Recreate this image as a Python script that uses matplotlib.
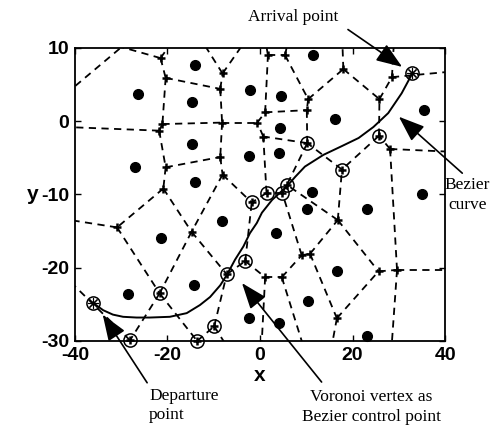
import matplotlib
matplotlib.use('Agg')
import matplotlib.pyplot as plt

plt.rcParams['axes.unicode_minus'] = False

# threat sites (filled dots)
site_x = [-14.0, -26.4, -14.8, -2.2, -14.8, -27.0, -14.0, -2.3, 11.5, 4.5, 16.2, 35.5, 4.3, 4.0,
          11.2, 35.1, -8.3, -21.5, -14.3, -28.6, -2.4, 10.1, 23.1, 3.5, 16.7, 10.3, 4.1, 23.1]
site_y = [7.7, 3.7, 2.6, 4.3, -3.1, -6.2, -8.3, -4.7, 9.0, 3.4, 0.3, 1.5, -1.0, -4.3,
          -9.7, -10.0, -13.6, -16.0, -22.3, -23.6, -26.9, -12.0, -12.0, -15.3, -20.5, -24.5, -27.6, -29.3]

# Voronoi vertices
vor_x = [-21.5, -20.4, -8.6, -8.1, -21.1, -21.8, -8.2, -0.6, -20.4, -8.6, -8.1, -20.9, -30.9, -14.8,
         -21.7, -28.1, -13.6, -9.9, -7.2, -3.2, -1.8, 1.4, 4.8, 5.8, 10.2, 17.7, 25.7, 1.1, 0.7,
         1.7, 5.4, 10.4, 10.1, 18.0, 25.8, 28.5, 28.1, 16.8, 9.0, 10.8, 4.7, 1.1, 16.6, 25.6, 29.6]
vor_y = [8.6, 5.9, 4.4, 6.5, -0.4, -1.3, -0.2, -0.2, -6.3, -4.9, -7.3, -9.2, -14.5, -15.1,
         -23.5, -29.9, -30.0, -28.0, -20.9, -19.1, -11.1, -9.8, -9.8, -8.7, -3.0, -6.6, -2.0, 1.2, -2.1,
         9.0, 9.0, 3.0, 1.5, 7.1, 3.0, 6.0, -3.8, -13.5, -18.3, -18.1, -21.3, -21.3, -26.9, -20.5, -20.3]

# Voronoi edges between vertices
vor_edges = [(0, 1), (1, 2), (2, 3), (1, 4), (4, 5), (4, 6), (5, 8), (2, 6), (6, 7), (6, 9), (8, 9),
             (9, 10), (10, 13), (10, 20), (8, 11), (11, 12), (11, 13), (12, 14), (13, 14), (13, 18),
             (14, 15), (14, 16), (16, 17), (17, 18), (18, 19), (19, 20), (19, 41), (41, 40), (40, 38),
             (38, 39), (38, 22), (39, 37), (39, 42), (37, 23), (37, 25), (37, 43), (42, 43), (43, 44),
             (44, 36), (36, 26), (26, 34), (26, 25), (25, 24), (24, 32), (24, 28), (24, 23), (23, 22),
             (22, 21), (21, 20), (21, 28), (28, 7), (7, 27), (27, 32), (27, 29), (29, 30), (30, 31),
             (31, 32), (31, 33), (33, 34), (34, 35)]

# unbounded Voronoi edges: (vertex, far x, far y)
vor_rays = [(0, -31, 10.3), (0, -19.5, 10.4), (3, -11.9, 10.3), (3, -3.9, 10.3), (5, -42, -0.8),
            (12, -42, -13.4), (15, -28.2, -31), (15, -42, -21.3), (16, -13.6, -31), (17, -6.9, -31),
            (41, 0.3, -31), (40, 9.5, -31), (42, 15.4, -31), (44, 28.4, -31), (44, 42, -20.3),
            (36, 42, -4.2), (35, 42, 6.8), (35, 28.9, 10.5), (33, 17.8, 10.5), (29, 1.3, 10.5),
            (30, 5.9, 10.5)]
corner_edge_x = [-42, -29]
corner_edge_y = [3.7, 10.6]

# Voronoi vertices used as Bezier control points
ctrl_idx = [15, 14, 16, 17, 18, 19, 20, 21, 22, 23, 24, 25, 26]
depart = (-36.1, -24.8)
arrive = (32.9, 6.5)

# Bezier path (traced)
path_x = [-36.1, -33.9, -31.8, -29.6, -26.7, -23.8, -19.5, -15.85, -13.0, -10.8, -8.6, -7.1, -5.4,
          -3.6, -2.2, -0.7, 0.4, 2.6, 5.8, 7.6, 9.7, 13.7, 17.7, 21.3, 24.5, 27.7, 30.6, 32.9]
path_y = [-24.8, -25.8, -26.4, -26.7, -26.8, -26.8, -26.7, -26.2, -25.1, -24.0, -22.4, -20.9, -18.9,
          -17.1, -15.3, -13.9, -12.5, -10.75, -8.9, -7.6, -6.2, -4.6, -3.4, -2.3, -0.8, 1.1, 3.8, 6.5]

fig = plt.figure(figsize=(5.03, 4.33), dpi=100)
ax = fig.add_axes([0.149, 0.2125, 0.736, 0.677])

dash = dict(color='k', lw=1.3, ls=(0, (4.0, 3.0)))
for i, j in vor_edges:
    ax.plot([vor_x[i], vor_x[j]], [vor_y[i], vor_y[j]], **dash)
for i, fx, fy in vor_rays:
    ax.plot([vor_x[i], fx], [vor_y[i], fy], **dash)
ax.plot(corner_edge_x, corner_edge_y, **dash)

ax.plot(vor_x, vor_y, ls='none', marker='+', ms=6, mew=1.8, color='k', clip_on=False)
ax.plot(site_x, site_y, ls='none', marker='o', ms=7, color='k', clip_on=False)

ax.plot(path_x, path_y, color='k', lw=1.4)

cx = [vor_x[i] for i in ctrl_idx]
cy = [vor_y[i] for i in ctrl_idx]
ax.plot(cx, cy, ls='none', marker='o', ms=9.5, mfc='none', mec='k', mew=1.1, clip_on=False)
ends_x = [depart[0], arrive[0]]
ends_y = [depart[1], arrive[1]]
ax.plot(ends_x, ends_y, ls='none', marker='o', ms=9.5, mfc='none', mec='k', mew=1.1, clip_on=False)
ax.plot(ends_x, ends_y, ls='none', marker=(8, 2, 0), ms=8, mew=0.8, color='k', clip_on=False)

ax.set_xlim(-40, 40)
ax.set_ylim(-30, 10)
ax.set_xticks([-40, -20, 0, 20, 40])
ax.set_yticks([-30, -20, -10, 0, 10])
ax.tick_params(direction='in', length=4, width=1, top=True, right=True, pad=4)
for lab in ax.get_xticklabels() + ax.get_yticklabels():
    lab.set_fontfamily('Liberation Sans')
    lab.set_fontweight('bold')
    lab.set_fontsize(14)
for s in ax.spines.values():
    s.set_linewidth(1.3)
ax.set_xlabel('x', fontsize=15, fontweight='bold', family='Liberation Sans', labelpad=2)
ax.set_ylabel('y', fontsize=15, fontweight='bold', family='Liberation Sans', rotation=0,
              labelpad=6, va='center')

arr = dict(arrowstyle='-|>,head_length=0.8,head_width=0.3', mutation_scale=20, lw=1.2,
           color='k', shrinkA=0, shrinkB=0)
tfont = dict(family='Liberation Serif', fontsize=12.5)

ax.annotate('', xy=(30.7, 7.4), xytext=(19.0, 12.5), arrowprops=arr, annotation_clip=False)
ax.text(7.1, 14.2, 'Arrival point', ha='center', va='center', **tfont)

ax.annotate('', xy=(30.0, 0.6), xytext=(43.7, -7.1), arrowprops=arr, annotation_clip=False)
ax.text(44.8, -10.1, 'Bezier\ncurve', ha='center', va='center', linespacing=1.3, **tfont)

ax.annotate('', xy=(-34.0, -26.4), xytext=(-24.4, -35.7), arrowprops=arr, annotation_clip=False)
ax.text(-24.0, -38.8, 'Departure\npoint', ha='left', va='center', linespacing=1.3, **tfont)

ax.annotate('', xy=(-3.9, -22.1), xytext=(13.3, -35.6), arrowprops=arr, annotation_clip=False)
ax.text(24.0, -39.0, 'Voronoi vertex as\nBezier control point', ha='center', va='center',
        linespacing=1.3, **tfont)

fig.savefig('out.png', dpi=100)
